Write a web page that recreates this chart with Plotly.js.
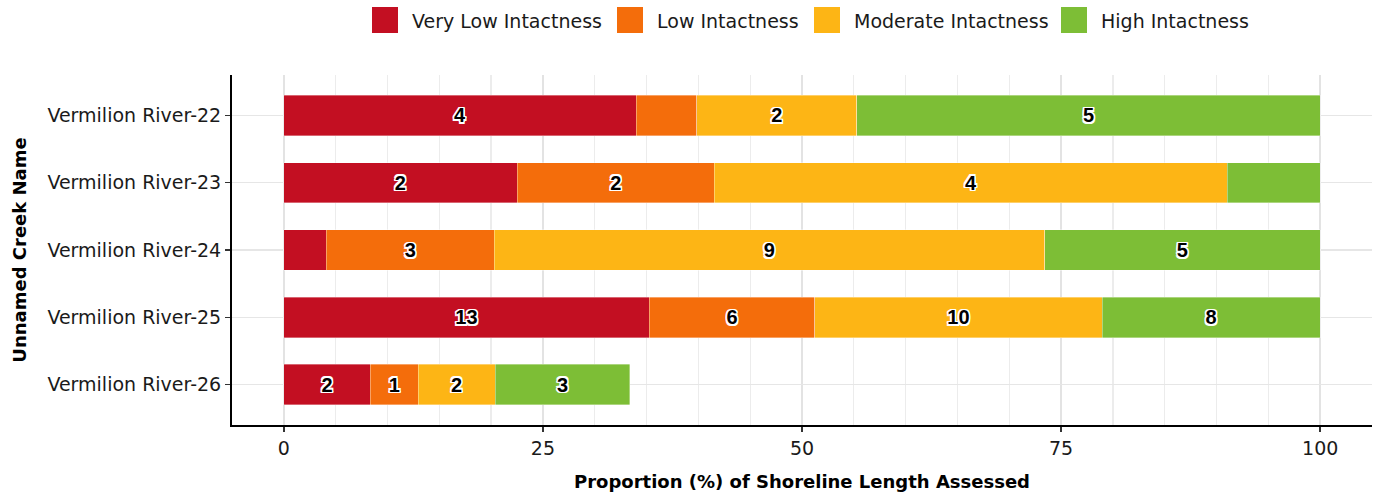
<!DOCTYPE html>
<html>
<head>
<meta charset="utf-8">
<script src="https://cdn.plot.ly/plotly-3.0.1.min.js"></script>
<style>html,body{margin:0;padding:0;background:#fff;}#chart{width:1376px;height:497px;}</style>
</head>
<body>
<div id="chart"></div>
<script>
// ---- data ----
const creeks = ["Vermilion River-22","Vermilion River-23","Vermilion River-24","Vermilion River-25","Vermilion River-26"];
const classes = ["Very Low Intactness","Low Intactness","Moderate Intactness","High Intactness"];
const colors = ["#C30F22","#F46D0B","#FDB515","#7DBE36"];
// proportion (%) of shoreline length in each class
const veryLowPct  = [34.0, 22.5, 4.1, 35.25, 8.35];
const lowPct      = [5.85, 19.05, 16.2, 16.0, 4.6];
const moderatePct = [15.45, 49.5, 53.1, 27.7, 7.45];
const highPct     = [44.7, 8.95, 26.6, 21.05, 13.0];
// counts shown as labels (null = not labelled)
const veryLowN  = [4, 2, null, 13, 2];
const lowN      = [null, 2, 3, 6, 1];
const moderateN = [2, 4, 9, 10, 2];
const highN     = [5, null, 5, 8, 3];
const xTicks = [0, 25, 50, 75, 100];

const pcts = [veryLowPct, lowPct, moderatePct, highPct];
const counts = [veryLowN, lowN, moderateN, highN];

const FONT = "Liberation Sans, Arial, sans-serif";
const WIDE = "DejaVu Sans, Liberation Sans, sans-serif";
const W = 1376, H = 497, L = 232, R = 4, T = 75, B = 72;
const pw = W - L - R, ph = H - T - B;
const px2x = p => (p - L) / pw;
const py2y = p => 1 - (p - T) / ph;

const shadow = "-1.5px -1.5px 0 #fff, 1.5px -1.5px 0 #fff, -1.5px 1.5px 0 #fff, 1.5px 1.5px 0 #fff, 0 1.5px 0 #fff, 0 -1.5px 0 #fff, 1.5px 0 0 #fff, -1.5px 0 0 #fff";

const traces = classes.map((c, i) => ({
  type: "bar",
  orientation: "h",
  name: c,
  y: creeks,
  x: pcts[i],
  text: counts[i].map(v => v == null ? "" : String(v)),
  textposition: "inside",
  insidetextanchor: "middle",
  constraintext: "none",
  textangle: 0,
  textfont: {family: FONT, size: 20, color: "#000", weight: 700, shadow: shadow},
  marker: {color: colors[i], line: {color: "rgba(255,255,255,0.6)", width: 0.6}},
  hoverinfo: "x+y+name",
  showlegend: false
}));

// custom ggplot-like legend
const legX = [372, 617, 814, 1061];
const shapes = [], annotations = [];
classes.forEach((c, i) => {
  shapes.push({type: "rect", xref: "paper", yref: "paper",
    x0: px2x(legX[i]), x1: px2x(legX[i] + 26), y0: py2y(33), y1: py2y(7),
    fillcolor: colors[i], line: {width: 0}});
  annotations.push({xref: "paper", yref: "paper", x: px2x(legX[i] + 38), y: py2y(21),
    xanchor: "left", yanchor: "middle", showarrow: false, text: c,
    font: {family: WIDE, size: 19, color: "#1a1a1a"}});
});

const layout = {
  width: W, height: H,
  margin: {l: L, r: R, t: T, b: B, pad: 0},
  paper_bgcolor: "#fff", plot_bgcolor: "#fff",
  barmode: "stack", bargap: 0.4,
  showlegend: false,
  font: {family: WIDE, color: "#1a1a1a"},
  xaxis: {
    range: [-5, 105], tickmode: "array", tickvals: xTicks, ticktext: xTicks.map(String),
    showgrid: true, gridcolor: "#e3e3e3", gridwidth: 1.6,
    minor: {dtick: 5, tick0: 0, showgrid: true, gridcolor: "#ececec", gridwidth: 1.2, ticks: ""},
    zeroline: false, showline: true, linecolor: "#000", linewidth: 2,
    ticks: "outside", ticklen: 5, tickwidth: 1.5, tickcolor: "#333",
    tickfont: {family: WIDE, size: 19, color: "#1a1a1a"},
    title: {text: "Proportion (%) of Shoreline Length Assessed", standoff: 18,
      font: {family: WIDE, size: 18, color: "#000", weight: 700}}
  },
  yaxis: {
    type: "category", categoryorder: "array", categoryarray: creeks,
    range: [4.6, -0.6],
    showgrid: true, gridcolor: "#e6e6e6", gridwidth: 1.6,
    zeroline: false, showline: true, linecolor: "#000", linewidth: 2,
    ticks: "outside", ticklen: 5, tickwidth: 1.5, tickcolor: "#333",
    tickfont: {family: WIDE, size: 19, color: "#1a1a1a"},
    title: {text: "Unnamed Creek Name", standoff: 16,
      font: {family: WIDE, size: 18, color: "#000", weight: 700}}
  },
  shapes: shapes,
  annotations: annotations
};

Plotly.newPlot("chart", traces, layout, {displayModeBar: false, staticPlot: true});
</script>
</body>
</html>
